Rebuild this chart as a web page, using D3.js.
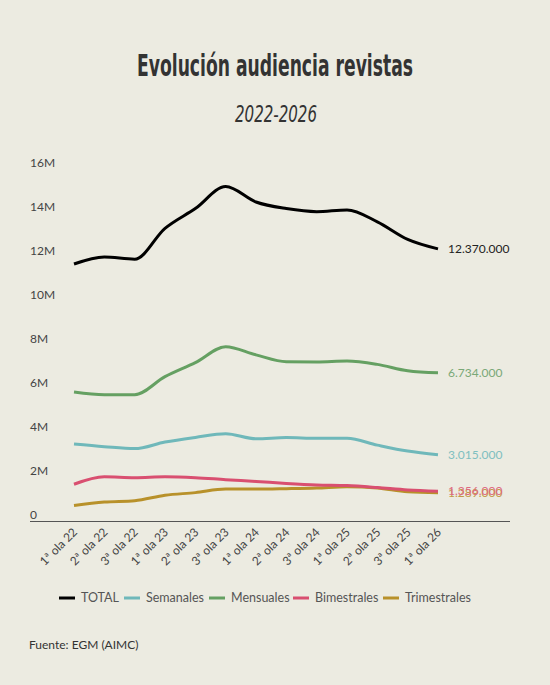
<!DOCTYPE html>
<html>
<head>
<meta charset="utf-8">
<script src="https://cdn.jsdelivr.net/npm/d3@7"></script>
<style>
  body { margin: 0; background: #ecebe1; }
  svg { display: block; }
</style>
</head>
<body>
<div id="chart"></div>
<script>
var w = 550;
var h = 685;

// data (millions)
var olas = ["1ª ola 22", "2ª ola 22", "3ª ola 22", "1ª ola 23", "2ª ola 23", "3ª ola 23",
  "1ª ola 24", "2ª ola 24", "3ª ola 24", "1ª ola 25", "2ª ola 25", "3ª ola 25", "1ª ola 26"];
var total = [11.68, 12.0, 11.9, 13.3, 14.2, 15.2, 14.5, 14.2, 14.06, 14.14, 13.6, 12.8, 12.37];
var semanales = [3.5, 3.38, 3.29, 3.59, 3.8, 3.97, 3.74, 3.79, 3.76, 3.76, 3.45, 3.18, 3.015];
var mensuales = [5.86, 5.74, 5.74, 6.56, 7.2, 7.92, 7.55, 7.24, 7.23, 7.27, 7.12, 6.83, 6.734];
var bimestrales = [1.67, 2.01, 1.97, 2.01, 1.97, 1.88, 1.80, 1.71, 1.64, 1.61, 1.52, 1.41, 1.356];
var trimestrales = [0.70, 0.86, 0.92, 1.17, 1.29, 1.45, 1.45, 1.47, 1.5, 1.56, 1.5, 1.33, 1.289];
var endLabels = ["12.370.000", "3.015.000", "6.734.000", "1.356.000", "1.289.000"];
var yTicks = [0, 2, 4, 6, 8, 10, 12, 14, 16];

var series = [
  {name: "TOTAL", values: total, color: "#000000", label: "#222222"},
  {name: "Semanales", values: semanales, color: "#6fb8ba", label: "#7fbfc0"},
  {name: "Mensuales", values: mensuales, color: "#65a062", label: "#7aa877"},
  {name: "Bimestrales", values: bimestrales, color: "#d94f70", label: "#de6a80"},
  {name: "Trimestrales", values: trimestrales, color: "#b8912a", label: "#c29a45"}
];
series.forEach(function(s, i) { s.end = endLabels[i]; });

var bodyFont = "Lato, 'Noto Sans', sans-serif";
var headFont = "'DejaVu Sans Condensed', 'DejaVu Sans', sans-serif";

var svg = d3.select("#chart")
  .append("svg")
  .attr("width", w)
  .attr("height", h);

svg.append("rect").attr("width", w).attr("height", h).attr("fill", "#ecebe1");

// condensed headline: squeeze to the width seen in the picture
svg.append("text")
  .attr("x", 137).attr("y", 76)
  .attr("textLength", 276)
  .attr("lengthAdjust", "spacingAndGlyphs")
  .style("font-family", headFont)
  .style("font-weight", "bold")
  .style("font-size", "30px")
  .style("fill", "#333")
  .text("Evolución audiencia revistas");

svg.append("text")
  .attr("x", 235).attr("y", 122)
  .attr("textLength", 82)
  .attr("lengthAdjust", "spacingAndGlyphs")
  .style("font-family", headFont)
  .style("font-style", "italic")
  .style("font-size", "23px")
  .style("fill", "#333")
  .text("2022-2026");

var x = d3.scalePoint()
  .domain(olas)
  .range([74, 438]);

var y = d3.scaleLinear()
  .domain([0, 16])
  .range([521, 169]);

// y labels sit above their (hidden) gridlines
svg.append("g").selectAll("text")
  .data(yTicks)
  .enter()
  .append("text")
  .attr("x", 30)
  .attr("y", function(d) { return y(d) - 2; })
  .style("font-family", bodyFont)
  .style("font-size", "12px")
  .style("fill", "#444")
  .text(function(d) { return d == 0 ? "0" : d + "M"; });

svg.append("line")
  .attr("x1", 30).attr("x2", 510)
  .attr("y1", y(0) + 0.5).attr("y2", y(0) + 0.5)
  .style("stroke", "#555")
  .style("stroke-width", 1);

svg.append("g").selectAll("text")
  .data(olas)
  .enter()
  .append("text")
  .attr("transform", function(d) { return "translate(" + (x(d) + 4) + "," + 533 + ") rotate(-45)"; })
  .attr("text-anchor", "end")
  .style("font-family", bodyFont)
  .style("font-size", "12px")
  .style("fill", "#444")
  .text(function(d) { return d; });

var line = d3.line()
  .x(function(d, i) { return x(olas[i]); })
  .y(function(d) { return y(d); })
  .curve(d3.curveMonotoneX);

// draw bottom series first so TOTAL sits on top
series.slice().reverse().forEach(function(s) {
  svg.append("path")
    .datum(s.values)
    .attr("d", line)
    .style("fill", "none")
    .style("stroke", s.color)
    .style("stroke-width", 3)
    .style("stroke-linecap", "butt");

  svg.append("text")
    .attr("x", x(olas[olas.length - 1]) + 10)
    .attr("y", y(s.values[s.values.length - 1]))
    .attr("dy", "0.35em")
    .style("font-family", bodyFont)
    .style("font-size", "12px")
    .style("fill", s.label)
    .text(s.end);
});

// legend
var legendX = [59, 124, 209, 293, 383];
var lg = svg.append("g").selectAll("g")
  .data(series)
  .enter()
  .append("g")
  .attr("transform", function(d, i) { return "translate(" + legendX[i] + ",598)"; });

lg.append("line")
  .attr("x1", 0).attr("x2", 16)
  .style("stroke", function(d) { return d.color; })
  .style("stroke-width", 3);

lg.append("text")
  .attr("x", 22)
  .attr("dy", "0.35em")
  .style("font-family", bodyFont)
  .style("font-size", "12.5px")
  .style("fill", "#555")
  .text(function(d) { return d.name; });

svg.append("text")
  .attr("x", 29).attr("y", 649)
  .style("font-family", bodyFont)
  .style("font-size", "12px")
  .style("fill", "#333")
  .text("Fuente: EGM (AIMC)");
</script>
</body>
</html>
